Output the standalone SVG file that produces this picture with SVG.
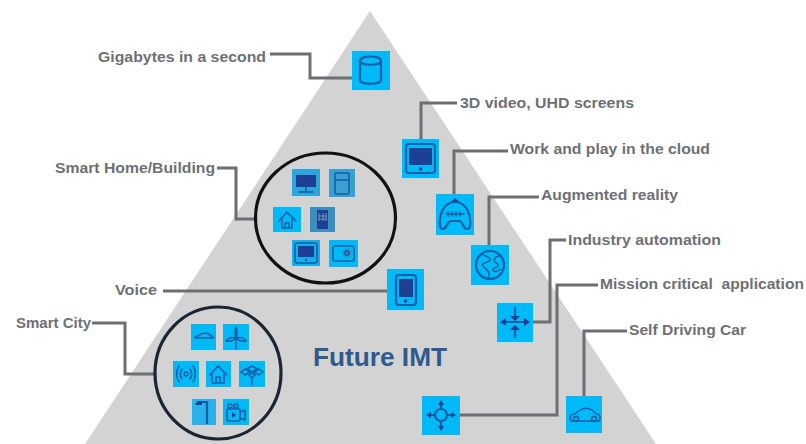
<svg xmlns="http://www.w3.org/2000/svg" width="806" height="444" viewBox="0 0 806 444">
<style>
.t{font:bold 14.500px "Liberation Sans",Arial,sans-serif;fill:#6e7075;white-space:pre}
.c{fill:none;stroke:#6d6e71;stroke-width:3}
.r{fill:#00b9f7}
.i{fill:none;stroke:#0f5ea8;stroke-width:2.200;stroke-linejoin:round;stroke-linecap:round}
.s{fill:none;stroke:#0f5ea8;stroke-width:1.500;stroke-linejoin:round;stroke-linecap:round}
.d{fill:#1d3f94}
.o{fill:none;stroke-width:3.200}
</style>
<rect width="806" height="444" fill="#fff"/>
<polygon points="370,11 85,444 656,444" fill="#d3d3d3"/>
<g id="connectors">
<path class="c" d="M270 54H310V78H352"/>
<path class="c" d="M457 103H421V140"/>
<path class="c" d="M508 151H454V194"/>
<path class="c" d="M539 197H489V245"/>
<path class="c" d="M533 322H550V240H566"/>
<path class="c" d="M460 415H557V285H598"/>
<path class="c" d="M584 396V331H627"/>
<path class="c" d="M163 291H387"/>
<path class="c" d="M217 168H236V219H257"/>
<path class="c" d="M92 323H125V374H155"/>
</g>
<g id="gigabytes"><text class="t" x="98" y="62" textLength="168" lengthAdjust="spacingAndGlyphs">Gigabytes in a second</text>
<rect class="r" x="352" y="51" width="38" height="39"/>
<path class="i" d="M360 61c0-6 21-6 21 0v19c0 5-21 5-21 0zM360 61c0 5 21 5 21 0"/></g>
<g id="video3d"><text class="t" x="460" y="108" textLength="174" lengthAdjust="spacingAndGlyphs">3D video, UHD screens</text>
<rect class="r" x="402" y="139" width="37" height="39"/>
<rect class="i" x="406" y="144" width="29" height="29" rx="3"/><rect class="d" x="409" y="148" width="23" height="17"/><circle class="d" cx="420.500" cy="169" r="1.800"/></g>
<g id="cloud"><text class="t" x="510" y="154" textLength="200" lengthAdjust="spacingAndGlyphs">Work and play in the cloud</text>
<rect class="r" x="436" y="194" width="38" height="41"/>
<path class="i" d="M455 202c-9 0-14 8-15 17-1 6 0 10 3 10 4 0 4-8 8-8h8c4 0 4 8 8 8 3 0 4-4 3-10-1-9-6-17-15-17z"/><path class="s" d="M446 214h18M448 212v4M452 212v4M456 212v4M460 212v4"/><path class="d" d="M451 202l4-4 4 4z"/></g>
<g id="ar"><text class="t" x="541" y="200" textLength="137" lengthAdjust="spacingAndGlyphs">Augmented reality</text>
<rect class="r" x="471" y="245" width="38" height="40"/>
<circle class="i" cx="490" cy="265" r="14"/><path class="s" d="M482 254c3 3 7 2 8 5s-5 3-7 5 3 5 5 7 1 6 1 7M500 255c-3 2-6 2-6 5s5 3 4 6-6 1-5 4 5 1 8-1"/></g>
<g id="industry"><text class="t" x="568" y="245" textLength="153" lengthAdjust="spacingAndGlyphs">Industry automation</text>
<rect class="r" x="497" y="303" width="36" height="39"/>
<path class="i" d="M503 322h24M515 308v9M515 327v10"/><path class="d" d="M500 322l6-4v8zM530 322l-6-4v8zM515 321l-5-5h10zM515 325l-5 5h10z"/></g>
<g id="mission"><text class="t" x="600" y="289" textLength="204" lengthAdjust="spacingAndGlyphs">Mission critical  application</text>
<rect class="r" x="422" y="396" width="38" height="39"/>
<circle class="i" cx="441" cy="415" r="6"/><path class="i" d="M441 403v6M441 421v7M428 415h7M447 415h7"/><path class="d" d="M441 400l-3 5h6zM441 431l-3-5h6zM426 415l5-3v6zM456 415l-5-3v6z"/></g>
<g id="car"><text class="t" x="629" y="335" textLength="117" lengthAdjust="spacingAndGlyphs">Self Driving Car</text>
<rect class="r" x="566" y="396" width="36" height="37"/>
<path class="s" d="M570 418c0-3 2-4 5-4l5-4c4-2 9-2 12 0l4 4c3 0 4 2 4 4s-1 3-2 3h-26c-1 0-2-1-2-3z"/><circle class="s" cx="576" cy="419" r="2.500"/><circle class="s" cx="594" cy="419" r="2.500"/></g>
<g id="voice"><text class="t" x="115" y="295" textLength="42" lengthAdjust="spacingAndGlyphs">Voice</text>
<rect class="r" x="387" y="269" width="37" height="41"/>
<rect class="i" x="396" y="275" width="20" height="30" rx="3"/><rect class="d" x="399" y="279" width="14" height="18"/><circle class="d" cx="405.500" cy="301" r="1.800"/></g>
<g id="smarthome"><text class="t" x="55" y="173" textLength="160" lengthAdjust="spacingAndGlyphs">Smart Home/Building</text>
<ellipse class="o" cx="325.500" cy="218" rx="70" ry="65" stroke="#111"/>
<rect x="292" y="169" width="28" height="27" fill="#2ba6dc"/><rect class="d" x="296" y="175" width="20" height="12"/><path class="s" d="M306 187v4M299 192h14"/>
<rect x="329" y="169" width="26" height="28" fill="#3aa0d2"/><rect class="s" x="335" y="173" width="14" height="21" rx="1"/><path class="s" d="M335 180h14"/>
<rect class="r" x="273" y="207" width="28" height="25"/><path class="s" d="M279 221l8-9 9 9M282 219v9h10v-9M285 228v-5h4v5"/>
<rect x="310" y="207" width="25" height="25" fill="#3a8fbf"/><rect class="d" x="317" y="210" width="11" height="19"/><path d="M319 213v8M323 213v8M326 213v8M318 216h9M318 219h9" stroke="#8ab" stroke-width=".8"/>
<rect x="292" y="240" width="28" height="26" fill="#14aee8"/><rect class="s" x="295" y="243" width="22" height="20" rx="2"/><rect class="d" x="298" y="246" width="16" height="11"/><circle class="d" cx="306" cy="260" r="1"/>
<rect class="r" x="329" y="240" width="29" height="27"/><rect class="s" x="333" y="246" width="21" height="15" rx="2"/><circle cx="347" cy="253" r="4.500" fill="#3a8fbf"/><circle class="s" cx="347" cy="253" r="2"/></g>
<g id="smartcity"><text class="t" x="16" y="328" textLength="75" lengthAdjust="spacingAndGlyphs">Smart City</text>
<ellipse class="o" cx="218" cy="373" rx="63" ry="66" stroke="#1a2433"/>
<rect class="r" x="191" y="324" width="25" height="26"/><path class="s" d="M195 338c0-1 1-2 3-2l3-2c3-1 6-1 8 0l2 2c2 0 2 1 2 2z"/>
<rect class="r" x="223" y="324" width="26" height="26"/><path class="s" d="M236 340v9M236 338c-1-3-2-5 0-11 2 6 1 8 0 11zM236 338c-3 3-6 4-10 3 2-3 6-4 10-3zM236 338c3 3 6 4 10 3-2-3-6-4-10-3z"/>
<rect class="r" x="173" y="361" width="26" height="26"/><circle class="s" cx="186" cy="374" r="2"/><path class="s" d="M182 369c-2 3-2 7 0 10M190 369c2 3 2 7 0 10M179 366c-3 5-3 11 0 16M193 366c3 5 3 11 0 16"/>
<rect class="r" x="206" y="361" width="25" height="26"/><path class="s" d="M210 375l8-9 9 9M212 373v10h12v-10M216 383v-6h4v6"/>
<rect class="r" x="239" y="361" width="26" height="26"/><path class="s" d="M252 366l5 3-5 3-5-3zM245 369l5 3-5 3-4-3zM259 369l-5 3 5 3 4-3zM252 373l3 2-3 3-3-3zM252 378v7"/>
<rect x="192" y="399" width="24" height="26" fill="#2ab0ea"/><path class="i" d="M198 402h9v21"/><path class="d" d="M195 405h7v-3h-5z"/>
<rect class="r" x="223" y="399" width="26" height="26"/><rect class="s" x="227" y="409" width="13" height="12" rx="1"/><path class="s" d="M240 412l5-2v10l-5-2z"/><circle class="s" cx="230" cy="406" r="2"/><circle class="s" cx="236" cy="406" r="2"/><path class="d" d="M232 412l4 3-4 3z"/></g>
<g id="label"><text x="313" y="366" font-family="Liberation Sans, Arial, sans-serif" font-weight="bold" font-size="25" fill="#2f5a8f" textLength="134" lengthAdjust="spacingAndGlyphs">Future IMT</text></g>
</svg>
